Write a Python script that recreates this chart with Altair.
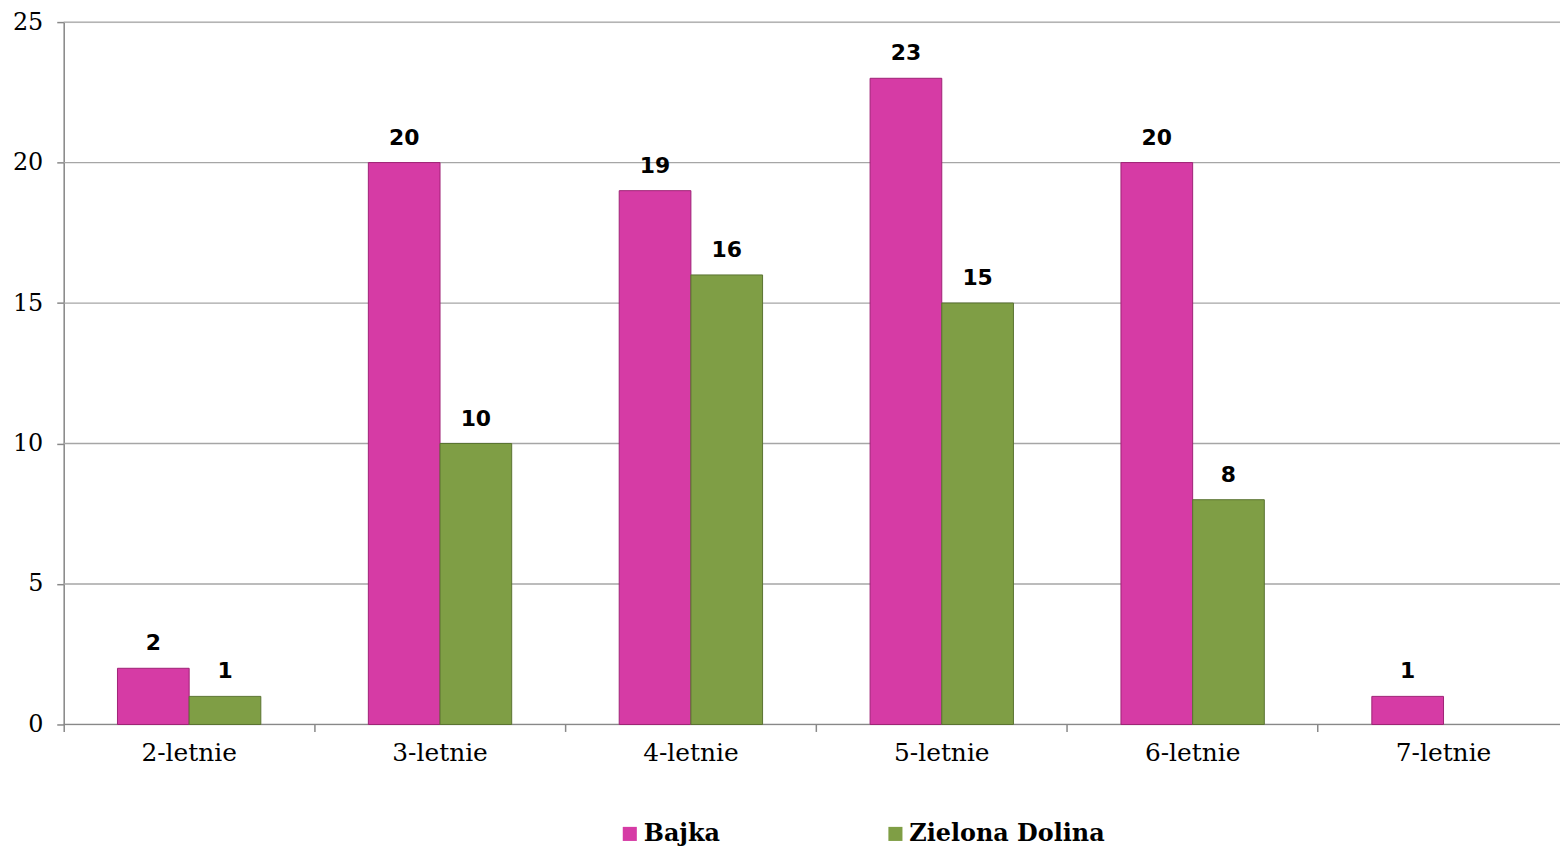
import altair as alt
import pandas as pd

categories = ["2-letnie", "3-letnie", "4-letnie", "5-letnie", "6-letnie", "7-letnie"]
series = ["Bajka", "Zielona Dolina"]
bajka = [2, 20, 19, 23, 20, 1]
zielona = [1, 10, 16, 15, 8, 0]
y_ticks = [0, 5, 10, 15, 20, 25]
colors = ["#D63BA5", "#7F9E45"]
strokes = ["#9E2276", "#5A7330"]

rows = []
for i, c in enumerate(categories):
    rows.append({"kat": c, "seria": series[0], "v": bajka[i]})
    rows.append({"kat": c, "seria": series[1], "v": zielona[i]})
df = pd.DataFrame(rows)
grid_df = pd.DataFrame({"g": y_ticks,
                        "c": ["#888888" if t == 0 else "#A6A6A6" for t in y_ticks]})

PLOT_W = 1504
xscale = alt.Scale(paddingInner=0, paddingOuter=0, range=[0, 1513])
x = alt.X("kat:N", sort=categories, title=None, scale=xscale,
          axis=alt.Axis(labelAngle=0, labelFont="DejaVu Serif", labelFontSize=25,
                        labelColor="#000000", labelPadding=9, bandPosition=0,
                        tickColor="#888888", tickSize=7, tickWidth=1.5,
                        domain=False, grid=False))
xo = alt.XOffset("seria:N", sort=series,
                 scale=alt.Scale(domain=series, paddingInner=0, paddingOuter=0.75))
yscale = alt.Scale(domain=[0, 25], nice=False, zero=True)

grid = alt.Chart(grid_df).mark_rule().encode(
    x=alt.value(0), x2=alt.value(PLOT_W),
    y=alt.Y("g:Q", scale=yscale, title=None,
            axis=alt.Axis(values=y_ticks, labelFont="DejaVu Serif",
                          labelFontSize=24, labelColor="#000000", labelPadding=14,
                          tickColor="#888888", tickSize=7, tickWidth=1.5,
                          domainColor="#888888", domainWidth=1.5, grid=False)),
    color=alt.Color("c:N", scale=None),
    strokeWidth=alt.value(1.3),
)

base = alt.Chart(df).transform_filter("datum.v > 0")

bars = base.mark_bar(strokeWidth=1).encode(
    x=x,
    xOffset=xo,
    y=alt.Y("v:Q", scale=yscale, title=None),
    color=alt.Color("seria:N", sort=series,
                    scale=alt.Scale(domain=series, range=colors),
                    legend=alt.Legend(title=None, orient="none", legendX=557, legendY=804,
                                      direction="horizontal", symbolType="square",
                                      symbolSize=200, symbolStrokeWidth=0,
                                      labelFont="DejaVu Serif", labelFontWeight="bold",
                                      labelFontSize=24, labelColor="#000000",
                                      labelLimit=500, columnPadding=164, labelOffset=2)),
    stroke=alt.Stroke("seria:N", sort=series,
                      scale=alt.Scale(domain=series, range=strokes), legend=None),
)

labels = base.mark_text(
    font="DejaVu Sans", fontWeight="bold", fontSize=22, baseline="alphabetic", dy=-18,
    color="#000000"
).encode(
    x=alt.X("kat:N", sort=categories, scale=xscale),
    xOffset=xo,
    y=alt.Y("v:Q", scale=yscale),
    text="v:Q",
)

chart = alt.layer(grid, bars, labels).resolve_scale(color="independent").properties(
    width=PLOT_W, height=706,
    padding={"left": 56, "top": 12, "right": 0, "bottom": 122},
    autosize=alt.AutoSizeParams(type="none"),
).configure_view(stroke=None).configure(background="#FFFFFF")

chart.save("out.html", embed_options={"renderer": "svg", "actions": False})
